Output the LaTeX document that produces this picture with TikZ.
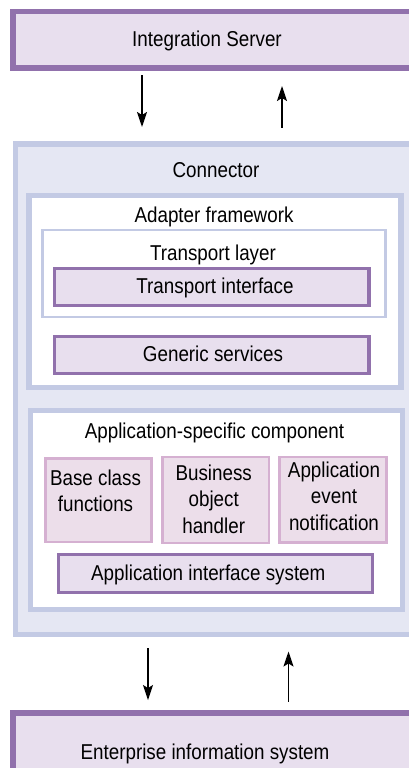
\documentclass[tikz,border=0pt]{standalone}
\usepackage{fontspec}
\setmainfont[FakeStretch=0.875]{Liberation Sans}
\usetikzlibrary{arrows.meta}
\definecolor{purp}{HTML}{9171AC}
\definecolor{purpfill}{HTML}{E8DFEE}
\definecolor{pinkb}{HTML}{D5B0D1}
\definecolor{pinkfill}{HTML}{ECDEEA}
\definecolor{blueb}{HTML}{C3CAE4}
\definecolor{bluefill}{HTML}{E5E7F3}
\begin{document}
\begin{tikzpicture}[x=1pt,y=-1pt,
  box/.style={rectangle, inner sep=0pt, outer sep=0pt},
  purpbox/.style={box, draw=purp, fill=purpfill},
  bluebox/.style={box, draw=blueb},
  pinkbox/.style={box, draw=pinkb, fill=pinkfill, line width=2.5pt},
  txt/.style={inner sep=0pt, outer sep=0pt, font=\fontsize{21.5}{26.5}\selectfont},
  tip/.tip={Stealth[length=15pt,width=10pt,inset=3pt]},
  arr/.style={line width=1.6pt, -tip},
  rarr/.style={line width=1.6pt, tip-}]
\useasboundingbox (0,0) rectangle (409,768);
\clip (0,0) rectangle (409,768);
\fill[white] (0,0) rectangle (409,768);

% boxes
\node[purpbox, line width=5.5pt, minimum width=417.25pt, minimum height=56.5pt] (IS) at (221.4,40) {};
\node[bluebox, fill=bluefill, line width=5.5pt, minimum width=414.5pt, minimum height=490.5pt] (CON) at (222.75,389) {};
\node[bluebox, fill=white, line width=5.5pt, minimum width=372pt, minimum height=192pt] (AF) at (215,291.5) {};
\node[bluebox, fill=white, line width=2.5pt, minimum width=343.25pt, minimum height=86.75pt] (TL) at (213.9,273.6) {};
\node[purpbox, line width=3.5pt, minimum width=314.5pt, minimum height=37pt] (TI) at (211.75,287) {};
\node[purpbox, line width=3.5pt, minimum width=314.5pt, minimum height=36.75pt] (GS) at (211.75,355.1) {};
\node[bluebox, fill=white, line width=5pt, minimum width=371.7pt, minimum height=198.4pt] (AS) at (216.65,510) {};
\node[pinkbox, minimum width=106.25pt, minimum height=83.5pt] (BC) at (98.4,500.25) {};
\node[pinkbox, minimum width=106.5pt, minimum height=85.75pt] (BO) at (215.5,499.9) {};
\node[pinkbox, minimum width=107pt, minimum height=85.5pt] (AE) at (333,499.75) {};
\node[purpbox, line width=3pt, minimum width=314pt, minimum height=37.7pt] (AI) at (215.8,573.65) {};
\node[purpbox, line width=5.5pt, minimum width=417.25pt, minimum height=77.25pt] (EIS) at (221.4,751.4) {};

% texts
\node[txt, anchor=base] (tIS) at (207,47) {Integration Server};
\node[txt, anchor=base] (tCON) at (216,177) {Connector};
\node[txt, anchor=base] (tAF) at (214,222) {Adapter framework};
\node[txt, anchor=base] (tTL) at (213,260) {Transport layer};
\node[txt, anchor=base] (tTI) at (215,293) {Transport interface};
\node[txt, anchor=base] (tGS) at (213,361) {Generic services};
\node[txt, anchor=base] (tAS) at (214.5,438) {Application-specific component};
\node[txt, anchor=north, align=center] (tBC) at (95.5,469.6) {Base class\\functions};
\node[txt, anchor=north, align=center] (tBO) at (213.7,464.6) {Business\\object\\handler};
\node[txt, anchor=north, align=center] (tAE) at (334,461.6) {Application\\event\\notification};
\node[txt, anchor=base] (tAI) at (208.3,580) {Application interface system};
\node[txt, anchor=base] (tEIS) at (205,759) {Enterprise information system};

% arrows
\coordinate (xa) at (142,0);
\coordinate (xb) at (282,0);
\coordinate (xc) at (148,0);
\coordinate (xd) at (288.5,0);
\draw[arr, shorten <=6.75pt, shorten >=16.75pt] (IS.south -| xa) -- (CON.north -| xa);
\draw[rarr, shorten <=17.75pt, shorten >=15.75pt] (IS.south -| xb) -- (CON.north -| xb);
\draw[arr, shorten <=13.75pt, shorten >=12.75pt] (CON.south -| xc) -- (EIS.north -| xc);
\draw[rarr, shorten <=17.25pt, shorten >=10.75pt] (CON.south -| xd) -- (EIS.north -| xd);
\end{tikzpicture}
\end{document}
